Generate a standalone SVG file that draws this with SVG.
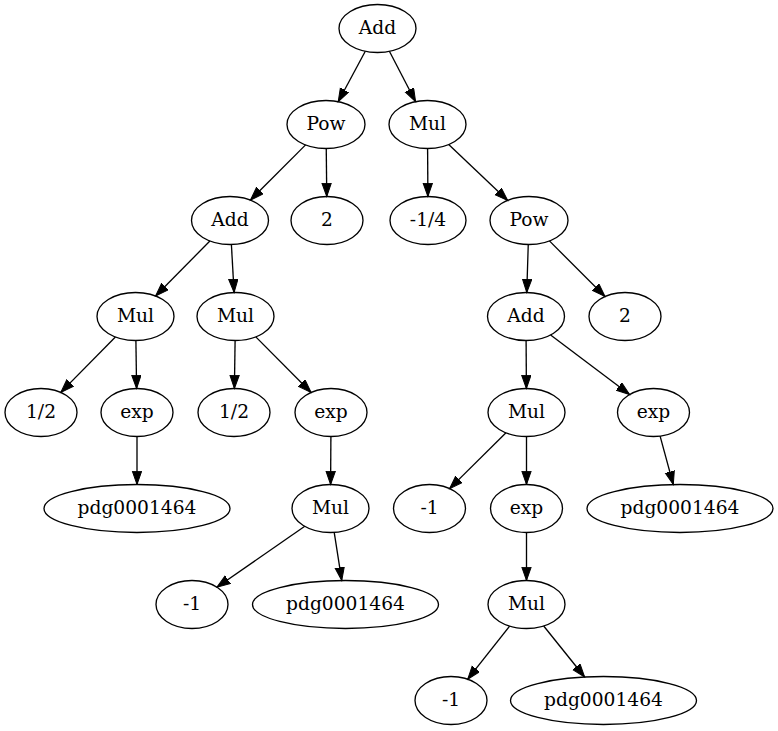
<svg xmlns="http://www.w3.org/2000/svg" width="778" height="731" viewBox="0 0 778 731">
<style>
.n ellipse{fill:none;stroke:#000;stroke-width:1.33}
.n text{font-family:"DejaVu Serif","Liberation Serif",serif;font-size:18.67px;text-anchor:middle;fill:#000}
#edges line{stroke:#000;stroke-width:1.33;marker-end:url(#ah)}
</style>
<defs>
<marker id="ah" markerUnits="userSpaceOnUse" markerWidth="15" markerHeight="11" refX="13.3" refY="5" orient="auto">
<path d="M0,0.33 L13.3,5 L0,9.67 z" fill="#000" stroke="#000" stroke-width="1"/>
</marker>
</defs>
<rect width="778" height="731" fill="#fff"/>
<g id="edges">
<line x1="365.3" y1="51.3" x2="338.2" y2="101.7"/>
<line x1="389.4" y1="51.3" x2="415.6" y2="101.7"/>
<line x1="305.6" y1="144.9" x2="250.4" y2="200.1"/>
<line x1="326.25" y1="148.5" x2="326.75" y2="196.5"/>
<line x1="427.6" y1="148.5" x2="427.9" y2="196.5"/>
<line x1="448.7" y1="144.5" x2="507.7" y2="200.4"/>
<line x1="209.9" y1="241.0" x2="155.6" y2="296.0"/>
<line x1="231.4" y1="244.5" x2="234.1" y2="292.5"/>
<line x1="115.4" y1="337.0" x2="60.8" y2="392.4"/>
<line x1="135.9" y1="340.5" x2="136.6" y2="388.5"/>
<line x1="137" y1="436.5" x2="137" y2="484.5"/>
<line x1="235.1" y1="340.5" x2="234.4" y2="388.5"/>
<line x1="255.8" y1="336.9" x2="311.1" y2="392.5"/>
<line x1="330.9" y1="436.5" x2="330.6" y2="484.5"/>
<line x1="304.8" y1="526.3" x2="216.9" y2="587.2"/>
<line x1="334.2" y1="532.4" x2="341.75" y2="580.5"/>
<line x1="528.25" y1="244.5" x2="526.75" y2="292.5"/>
<line x1="549.4" y1="240.9" x2="605.0" y2="296.5"/>
<line x1="526.1" y1="340.5" x2="526.4" y2="388.5"/>
<line x1="550.6" y1="335.0" x2="629.6" y2="394.5"/>
<line x1="506.0" y1="432.8" x2="449.6" y2="488.6"/>
<line x1="526.5" y1="436.5" x2="526.5" y2="484.5"/>
<line x1="660.1" y1="436.1" x2="673.3" y2="484.6"/>
<line x1="526.5" y1="532.5" x2="526.5" y2="580.5"/>
<line x1="509.6" y1="626.1" x2="467.7" y2="679.2"/>
<line x1="543.7" y1="626.0" x2="584.65" y2="677.0"/>
</g>
<g id="n0" class="n"><ellipse cx="377.5" cy="28.5" rx="38.5" ry="24"/><text x="377.5" y="33.5">Add</text></g>
<g id="n1" class="n"><ellipse cx="326" cy="124.5" rx="39" ry="24"/><text x="326" y="129.5">Pow</text></g>
<g id="n2" class="n"><ellipse cx="427.5" cy="124.5" rx="38.5" ry="24"/><text x="427.5" y="129.5">Mul</text></g>
<g id="n3" class="n"><ellipse cx="230" cy="220.5" rx="38.5" ry="24"/><text x="230" y="225.5">Add</text></g>
<g id="n4" class="n"><ellipse cx="327" cy="220.5" rx="36" ry="24"/><text x="327" y="225.5">2</text></g>
<g id="n5" class="n"><ellipse cx="428" cy="220.5" rx="38" ry="24"/><text x="428" y="225.5">-1/4</text></g>
<g id="n6" class="n"><ellipse cx="529" cy="220.5" rx="39" ry="24"/><text x="529" y="225.5">Pow</text></g>
<g id="n7" class="n"><ellipse cx="135.5" cy="316.5" rx="38.5" ry="24"/><text x="135.5" y="321.5">Mul</text></g>
<g id="n8" class="n"><ellipse cx="235.5" cy="316.5" rx="38.5" ry="24"/><text x="235.5" y="321.5">Mul</text></g>
<g id="n9" class="n"><ellipse cx="526" cy="316.5" rx="38.5" ry="24"/><text x="526" y="321.5">Add</text></g>
<g id="n10" class="n"><ellipse cx="625" cy="316.5" rx="36" ry="24"/><text x="625" y="321.5">2</text></g>
<g id="n11" class="n"><ellipse cx="41" cy="412.5" rx="36" ry="24"/><text x="41" y="417.5">1/2</text></g>
<g id="n12" class="n"><ellipse cx="137" cy="412.5" rx="36" ry="24"/><text x="137" y="417.5">exp</text></g>
<g id="n13" class="n"><ellipse cx="234" cy="412.5" rx="36" ry="24"/><text x="234" y="417.5">1/2</text></g>
<g id="n14" class="n"><ellipse cx="331" cy="412.5" rx="36" ry="24"/><text x="331" y="417.5">exp</text></g>
<g id="n15" class="n"><ellipse cx="526.5" cy="412.5" rx="38.5" ry="24"/><text x="526.5" y="417.5">Mul</text></g>
<g id="n16" class="n"><ellipse cx="653.5" cy="412.5" rx="36" ry="24"/><text x="653.5" y="417.5">exp</text></g>
<g id="n17" class="n"><ellipse cx="137" cy="508.5" rx="93" ry="24"/><text x="137" y="513.5">pdg0001464</text></g>
<g id="n18" class="n"><ellipse cx="330.5" cy="508.5" rx="38.5" ry="24"/><text x="330.5" y="513.5">Mul</text></g>
<g id="n19" class="n"><ellipse cx="429.5" cy="508.5" rx="36" ry="24"/><text x="429.5" y="513.5">-1</text></g>
<g id="n20" class="n"><ellipse cx="526.5" cy="508.5" rx="36" ry="24"/><text x="526.5" y="513.5">exp</text></g>
<g id="n21" class="n"><ellipse cx="680" cy="508.5" rx="93" ry="24"/><text x="680" y="513.5">pdg0001464</text></g>
<g id="n22" class="n"><ellipse cx="192" cy="604.5" rx="36" ry="24"/><text x="192" y="609.5">-1</text></g>
<g id="n23" class="n"><ellipse cx="345.5" cy="604.5" rx="93" ry="24"/><text x="345.5" y="609.5">pdg0001464</text></g>
<g id="n24" class="n"><ellipse cx="526.5" cy="604.5" rx="38.5" ry="24"/><text x="526.5" y="609.5">Mul</text></g>
<g id="n25" class="n"><ellipse cx="451" cy="700.5" rx="36" ry="24"/><text x="451" y="705.5">-1</text></g>
<g id="n26" class="n"><ellipse cx="603.5" cy="700.5" rx="93" ry="24"/><text x="603.5" y="705.5">pdg0001464</text></g>
</svg>
